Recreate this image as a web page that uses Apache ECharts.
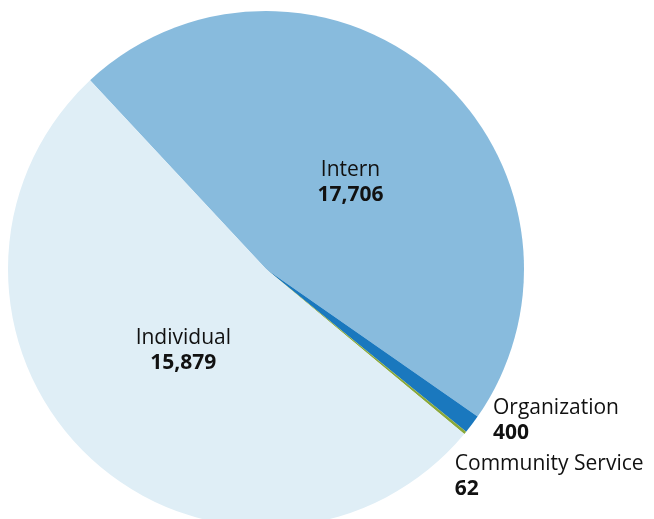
<!DOCTYPE html>
<html><head><meta charset="utf-8">
<script src="https://cdn.jsdelivr.net/npm/echarts@6/dist/echarts.min.js"></script>
<style>html,body{margin:0;padding:0;background:#fff}#c{width:654px;height:519px}</style>
</head><body><div id="c"></div>
<script>
// Printed figures (labels)
const categories = ["Intern", "Organization", "Community Service", "Individual"];
const values = [17706, 400, 62, 15879];
// Slice sizes as drawn in the reference (angles: top slice ~168°, bottom ~188°)
const sliceValues = [15879, 400, 62, 17706];
const colors = ["#88bbdd", "#1a78be", "#8aa83a", "#dfeef6"];

const chart = echarts.init(document.getElementById('c'), null, {renderer: 'canvas'});
const FONT = "Open Sans";
const labelShift = [[-2, 13], [-26, -13], [-57, 34], [8, -14]];
chart.setOption({
  animation: false,
  series: [{
    type: 'pie',
    center: [266, 269],
    radius: 258,
    startAngle: 133,
    clockwise: true,
    avoidLabelOverlap: false,
    data: categories.map((n, i) => ({
      name: n, value: sliceValues[i],
      itemStyle: {color: colors[i]},
      label: i === 0 || i === 3 ? {position: 'inside', align: 'center'} : {position: 'outside', align: 'left', overflow: 'none', alignTo: 'none'},
      labelLine: {show: false}
    })),
    label: {
      overflow: 'none',
      formatter: p => '{a|' + p.name + '}\n{b|' + values[p.dataIndex].toLocaleString('en-US') + '}',
      rich: {
        a: {fontFamily: FONT, fontSize: 21, color: '#111', lineHeight: 25},
        b: {fontFamily: FONT, fontSize: 21, fontWeight: 'bold', color: '#111', lineHeight: 25}
      }
    },
    labelLayout: p => ({dx: labelShift[p.dataIndex][0], dy: labelShift[p.dataIndex][1], hideOverlap: false}),
    labelLine: {show: false}
  }]
});
</script></body></html>
